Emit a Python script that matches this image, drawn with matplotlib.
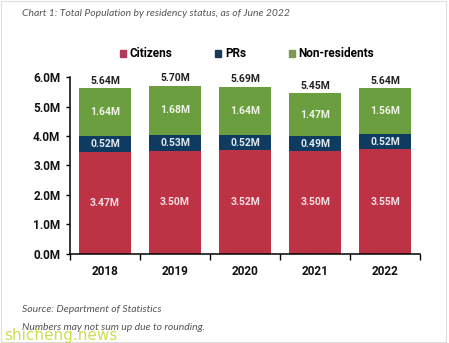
import matplotlib.pyplot as plt
from matplotlib.patches import Rectangle
import numpy as np

years = ["2018", "2019", "2020", "2021", "2022"]
citizens = [3.47, 3.50, 3.52, 3.50, 3.55]
prs = [0.52, 0.53, 0.52, 0.49, 0.52]
non_res = [1.64, 1.68, 1.64, 1.47, 1.56]
totals = [5.64, 5.70, 5.69, 5.45, 5.64]

c_cit = "#BE3246"
c_pr = "#0E3B5F"
c_nr = "#6A9E3F"

fig = plt.figure(figsize=(4.49, 3.43), dpi=100)
fig.patches.append(Rectangle((0.002, 0.003), 0.992, 0.994, transform=fig.transFigure,
                             fill=False, edgecolor="#dddddd", lw=0.8))

ax = fig.add_axes([0.156, 0.26, 0.78, 0.515])
x = np.arange(len(years))
w = 0.74
b1 = ax.bar(x, citizens, w, color=c_cit, label="Citizens")
b2 = ax.bar(x, prs, w, bottom=citizens, color=c_pr, label="PRs")
bot3 = np.array(citizens) + np.array(prs)
b3 = ax.bar(x, non_res, w, bottom=bot3, color=c_nr, label="Non-residents")

fnt = "Roboto"
for i in range(len(years)):
    ax.text(x[i], citizens[i] / 2, f"{citizens[i]:.2f}M", ha="center", va="center",
            color="#f3dfe2", fontsize=7.5, fontweight="bold", family=fnt)
    ax.text(x[i], citizens[i] + prs[i] / 2, f"{prs[i]:.2f}M", ha="center", va="center",
            color="#e0e8f0", fontsize=7.5, fontweight="bold", family=fnt)
    ax.text(x[i], bot3[i] + non_res[i] / 2, f"{non_res[i]:.2f}M", ha="center", va="center",
            color="#eef4e6", fontsize=7.5, fontweight="bold", family=fnt)
    ax.text(x[i], bot3[i] + non_res[i] + 0.08, f"{totals[i]:.2f}M", ha="center", va="bottom",
            color="#222222", fontsize=7.5, fontweight="bold", family=fnt)

ax.set_xlim(-0.5, 4.5)
ax.set_ylim(0, 6.0)
ax.set_yticks(np.arange(0, 6.1, 1.0))
ax.set_yticklabels([f"{v:.1f}M" for v in np.arange(0, 6.1, 1.0)])
ax.set_xticks(x)
ax.set_xticklabels(years)
ax.set_xticks(np.arange(-0.5, 4.6, 1.0), minor=True)
ax.tick_params(axis="x", which="major", length=0, pad=8)
ax.tick_params(axis="x", which="minor", length=4, width=1, direction="out")
ax.tick_params(axis="y", length=3, width=1, pad=4)
for lab in ax.get_xticklabels() + ax.get_yticklabels():
    lab.set_family(fnt)
    lab.set_fontweight("bold")
    lab.set_fontsize(8.5)
    lab.set_color("#111111")
for s in ["top", "right"]:
    ax.spines[s].set_visible(False)
ax.spines["left"].set_linewidth(1.1)
ax.spines["bottom"].set_linewidth(1.1)

leg = fig.legend(handles=[b1, b2, b3], loc="center", bbox_to_anchor=(0.55, 0.843), ncol=3,
                 frameon=False, handlelength=0.55, handleheight=0.55, columnspacing=3.6,
                 handletextpad=0.3, prop={"family": fnt, "weight": "bold", "size": 8.5})
leg.get_patches()[0].set_color("#B03A5A")
leg.get_patches()[1].set_color("#1B3A58")
leg.get_patches()[2].set_color("#7C9A55")

fig.text(0.049, 0.962, "Chart 1: Total Population by residency status, as of June 2022",
         fontsize=7.5, style="italic", color="#555555", family="Lato", va="center")
fig.text(0.049, 0.09, "Source: Department of Statistics",
         fontsize=7.5, style="italic", color="#555555", family="Lato")
fig.text(0.049, 0.038, "Numbers may not sum up due to rounding.",
         fontsize=7.5, style="italic", color="#555555", family="Lato")
fig.text(0.01, 0.01, "shicheng.news", fontsize=11, color="#c8d830", family="DejaVu Sans", alpha=0.85)

fig.savefig("out.png", dpi=100)
